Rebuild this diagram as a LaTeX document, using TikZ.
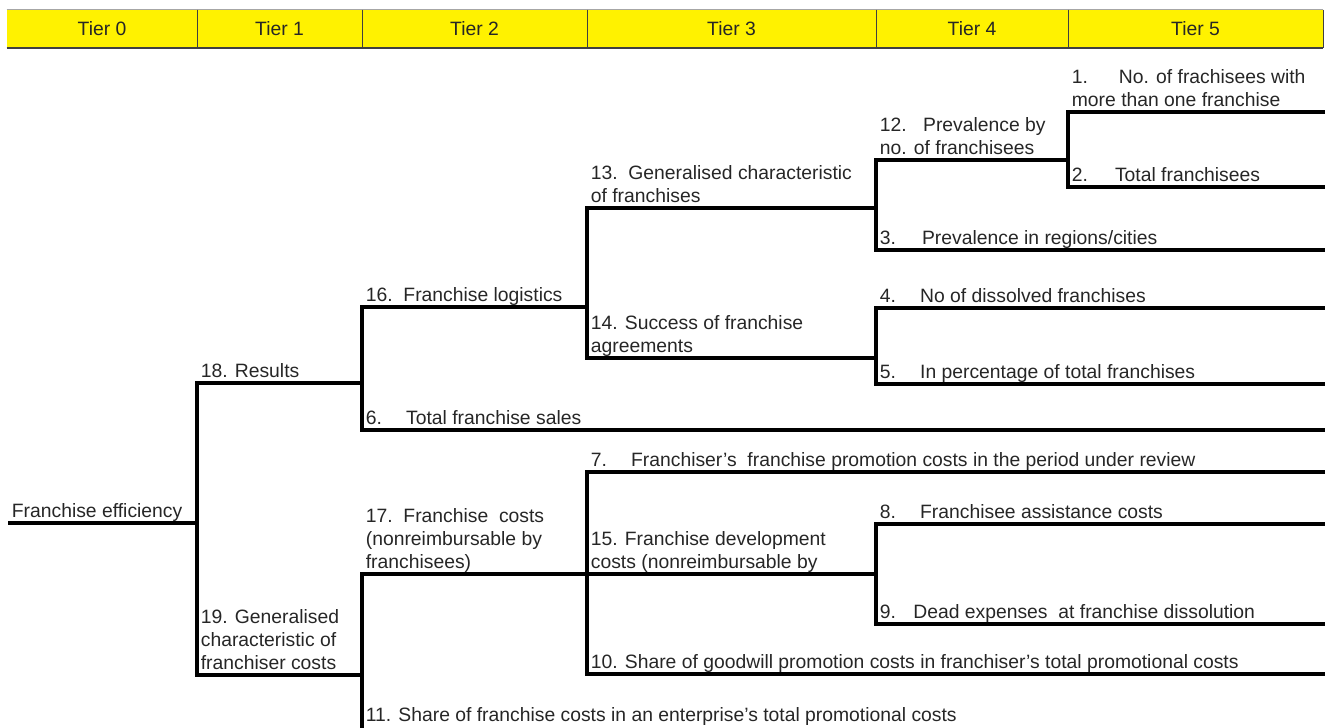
\documentclass[tikz,border=0pt]{standalone}
\usepackage{fontspec}
\setmainfont{Liberation Sans}

\begin{document}
\begin{tikzpicture}[
        x=0.02cm, y=-0.02cm,
        tier/.style={rectangle, fill=yellow, minimum height=0.76cm, inner sep=0pt, font=\fontsize{11}{13}\selectfont, text=black!85},
        sep/.style={black!75, line width=0.6pt},
        lbl/.style={anchor=south west, inner xsep=2pt, inner ysep=0pt, yshift=-1pt, align=left, font=\fontsize{11}{13}\selectfont, text=black!85},
        branch/.style={line width=2.2pt, black}
    ]
        \useasboundingbox (0,0) rectangle (1325,727);

        % Header
        \node[tier, minimum width=3.8cm] (t0) at (102,29) {Tier 0};
        \node[tier, minimum width=3.3cm] (t1) at (279.5,29) {Tier 1};
        \node[tier, minimum width=4.5cm] (t2) at (474.5,29) {Tier 2};
        \node[tier, minimum width=5.78cm] (t3) at (731.5,29) {Tier 3};
        \node[tier, minimum width=3.84cm] (t4) at (972,29) {Tier 4};
        \node[tier, minimum width=5.1cm] (t5) at (1195.5,29) {Tier 5};
        \draw[black!35, line width=0.6pt] (t0.north west) -- (t5.north east);
        \draw[sep] (t0.north east) -- (t0.south east);
        \draw[sep] (t1.north east) -- (t1.south east);
        \draw[sep] (t2.north east) -- (t2.south east);
        \draw[sep] (t3.north east) -- (t3.south east);
        \draw[sep] (t4.north east) -- (t4.south east);
        \draw[sep] (t5.north east) -- (t5.south east);
        \draw[black!75, line width=1.2pt] (t0.south west) -- (t5.south east);

        % Tier 0
        \coordinate (s0) at (8,523);
        \coordinate (e0) at (197,523);
        \node[lbl] (n0) at (s0) {Franchise efficiency\strut};
        \draw[branch] (s0) -- (e0);

        % Tier 1
        \coordinate (e18) at (362,383);
        \coordinate (e19) at (362,675);
        \node[lbl] (n18) at (197,383) {18. Results\strut};
        \node[lbl] (n19) at (197,675) {19. Generalised\\characteristic of\\franchiser costs\strut};
        \draw[branch] (e0) |- (e18);
        \draw[branch] (e0) |- (e19);

        % Tier 2, results branch
        \coordinate (e16) at (587,307);
        \coordinate (e6) at (1326,430);
        \node[lbl] (n16) at (362,307) {16.\ \ Franchise logistics\strut};
        \node[lbl] (n6) at (362,430) {6.\hspace{1.25em}Total franchise sales\strut};
        \draw[branch] (e18) |- (e16);
        \draw[branch] (e18) |- (e6);

        % Tier 2, costs branch
        \coordinate (e17) at (587,574);
        \coordinate (c11) at (362,728);
        \node[lbl] (n17) at (362,574) {17.\ \ Franchise\ \ costs\\(nonreimbursable by\\franchisees)\strut};
        \node[lbl] (n11) at (362,727) {11. Share of franchise costs in an enterprise's total promotional costs\strut};
        \draw[branch] (e19) |- (e17);
        \draw[branch] (e19) -- (c11);

        % Tier 3
        \coordinate (e13) at (876,208);
        \coordinate (e14) at (876,358);
        \node[lbl] (n13) at (587,208) {13.\ \ Generalised characteristic\\of franchises\strut};
        \node[lbl] (n14) at (587,358) {14. Success of franchise\\agreements\strut};
        \draw[branch] (e16) |- (e13);
        \draw[branch] (e16) |- (e14);

        \coordinate (e7) at (1326,472);
        \coordinate (e15) at (876,574);
        \coordinate (e10) at (1326,674);
        \node[lbl] (n7) at (587,472) {7.\hspace{1.25em}Franchiser's\ \ franchise promotion costs in the period under review\strut};
        \node[lbl] (n15) at (587,574) {15. Franchise development\\costs (nonreimbursable by\strut};
        \node[lbl] (n10) at (587,674) {10. Share of goodwill promotion costs in franchiser's total promotional costs\strut};
        \draw[branch] (e17) |- (e7);
        \draw[branch] (e17) |- (e15);
        \draw[branch] (e17) |- (e10);

        % Tier 4
        \coordinate (e12) at (1068,160);
        \coordinate (e3) at (1326,250);
        \node[lbl] (n12) at (876,160) {12.\hspace{0.85em}Prevalence by\\no. of franchisees\strut};
        \node[lbl] (n3) at (876,250) {3.\hspace{1.35em}Prevalence in regions/cities\strut};
        \draw[branch] (e13) |- (e12);
        \draw[branch] (e13) |- (e3);

        \coordinate (e4) at (1326,308);
        \coordinate (e5) at (1326,384);
        \node[lbl] (n4) at (876,308) {4.\hspace{1.25em}No of dissolved franchises\strut};
        \node[lbl] (n5) at (876,384) {5.\hspace{1.25em}In percentage of total franchises\strut};
        \draw[branch] (e14) |- (e4);
        \draw[branch] (e14) |- (e5);

        \coordinate (e8) at (1326,524);
        \coordinate (e9) at (1326,624);
        \node[lbl] (n8) at (876,524) {8.\hspace{1.25em}Franchisee assistance costs\strut};
        \node[lbl] (n9) at (876,624) {9.\hspace{0.9em}Dead expenses\ \ at franchise dissolution\strut};
        \draw[branch] (e15) |- (e8);
        \draw[branch] (e15) |- (e9);

        % Tier 5
        \coordinate (e1) at (1326,112);
        \coordinate (e2) at (1326,187);
        \node[lbl] (n1) at (1068,112) {1.\hspace{1.6em}No. of frachisees with\\more than one franchise\strut};
        \node[lbl] (n2) at (1068,187) {2.\hspace{1.4em}Total franchisees\strut};
        \draw[branch] (e12) |- (e1);
        \draw[branch] (e12) |- (e2);

    \end{tikzpicture}
\end{document}
